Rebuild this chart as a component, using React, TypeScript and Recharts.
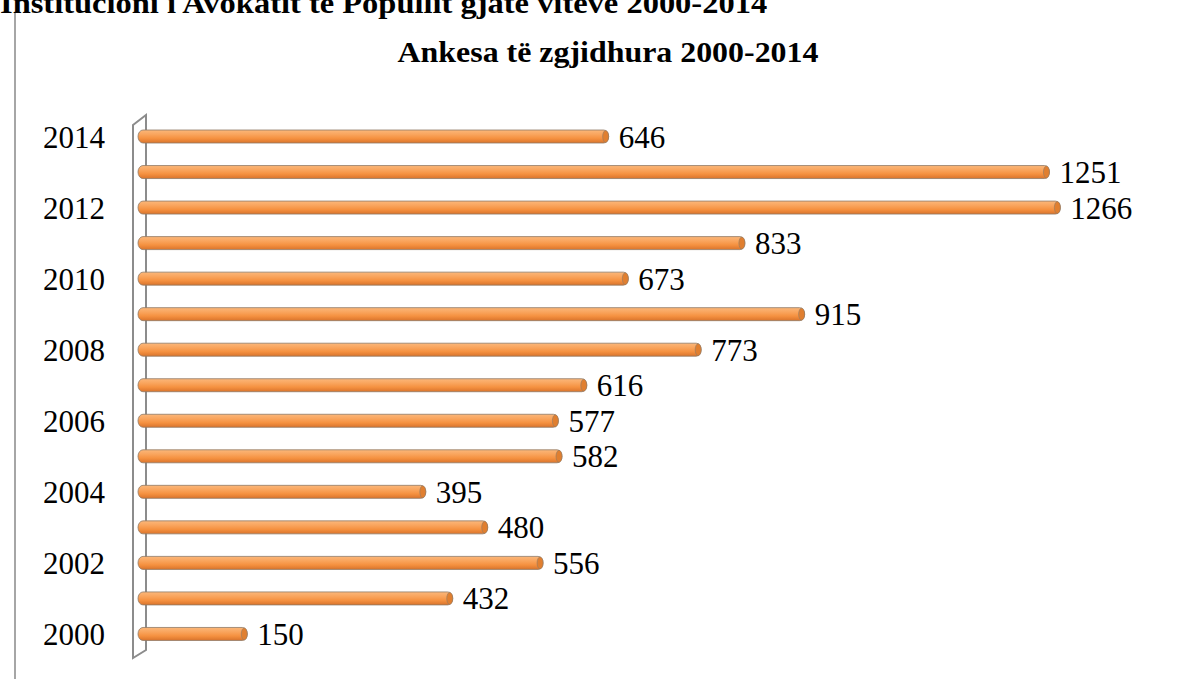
import { BarChart, Bar, XAxis, YAxis, LabelList } from "recharts";

const years = ["2000", "2001", "2002", "2003", "2004", "2005", "2006", "2007", "2008", "2009", "2010", "2011", "2012", "2013", "2014"];
const complaints = [150, 432, 556, 480, 395, 582, 577, 616, 773, 915, 673, 833, 1266, 1251, 646];
const yearLabels = ["2000", "", "2002", "", "2004", "", "2006", "", "2008", "", "2010", "", "2012", "", "2014"];

const data = years.map((y, i) => ({ year: y, value: complaints[i] }));

const font = '"Liberation Serif", "Times New Roman", serif';

const CylinderBar = (props: any) => {
  const { x, y, width, height } = props;
  if (!width || width <= 0) return null;
  return (
    <g>
      <rect x={x} y={y} width={width} height={height} rx={5} ry={height / 2} fill="url(#barGrad)" stroke="#8f7a66" strokeWidth={0.8} />
      <ellipse cx={x + width - 3} cy={y + height / 2} rx={3} ry={height / 2 - 0.5} fill="#e07f30" stroke="#8f7a66" strokeWidth={0.6} />
    </g>
  );
};

export default function App() {
  return (
    <div style={{ position: "absolute", left: 0, top: 0, width: 1190, height: 679, background: "#fff", overflow: "hidden", fontFamily: font }}>
      <div
        style={{
          position: "absolute",
          left: 0,
          top: -13,
          fontSize: 29,
          fontWeight: "bold",
          whiteSpace: "nowrap",
          transform: "scaleX(1.12)",
          transformOrigin: "left top",
        }}
      >
        Institucioni i Avokatit të Popullit gjatë viteve 2000-2014
      </div>
      <div style={{ position: "absolute", left: 14, top: 13, width: 2, height: 666, background: "#a6a6a6" }} />
      <div
        style={{
          position: "absolute",
          left: 608,
          top: 36,
          fontSize: 29,
          fontWeight: "bold",
          whiteSpace: "nowrap",
          transform: "translateX(-50%) scaleX(1.1)",
        }}
      >
        Ankesa të zgjidhura 2000-2014
      </div>
      <svg style={{ position: "absolute", left: 0, top: 0 }} width={1190} height={679}>
        <polygon points="133,125 146,115 146,650 133,658" fill="#ffffff" stroke="#8c8c8c" strokeWidth={2} />
      </svg>
      <div style={{ position: "absolute", left: 0, top: 0 }}>
        <BarChart
          width={1190}
          height={679}
          data={data}
          layout="vertical"
          margin={{ top: 119, right: 32, bottom: 27, left: 0 }}
          barSize={13}
        >
          <defs>
            <linearGradient id="barGrad" x1="0" y1="0" x2="0" y2="1">
              <stop offset="0%" stopColor="#fbb77a" />
              <stop offset="35%" stopColor="#f9a45c" />
              <stop offset="65%" stopColor="#f59140" />
              <stop offset="100%" stopColor="#d9742c" />
            </linearGradient>
          </defs>
          <XAxis type="number" domain={[0, 1400]} hide />
          <YAxis
            type="category"
            dataKey="year"
            reversed
            width={138}
            axisLine={false}
            tickLine={false}
            tickSize={0}
            tickMargin={33}
            interval={0}
            tickFormatter={(v: string) => yearLabels[years.indexOf(v)]}
            tick={{ fill: "#000", fontSize: 31, fontFamily: font }}
          />
          <Bar dataKey="value" isAnimationActive={false} shape={CylinderBar}>
            <LabelList dataKey="value" position="right" offset={10} fill="#000" fontSize={31} fontFamily={font} />
          </Bar>
        </BarChart>
      </div>
    </div>
  );
}
